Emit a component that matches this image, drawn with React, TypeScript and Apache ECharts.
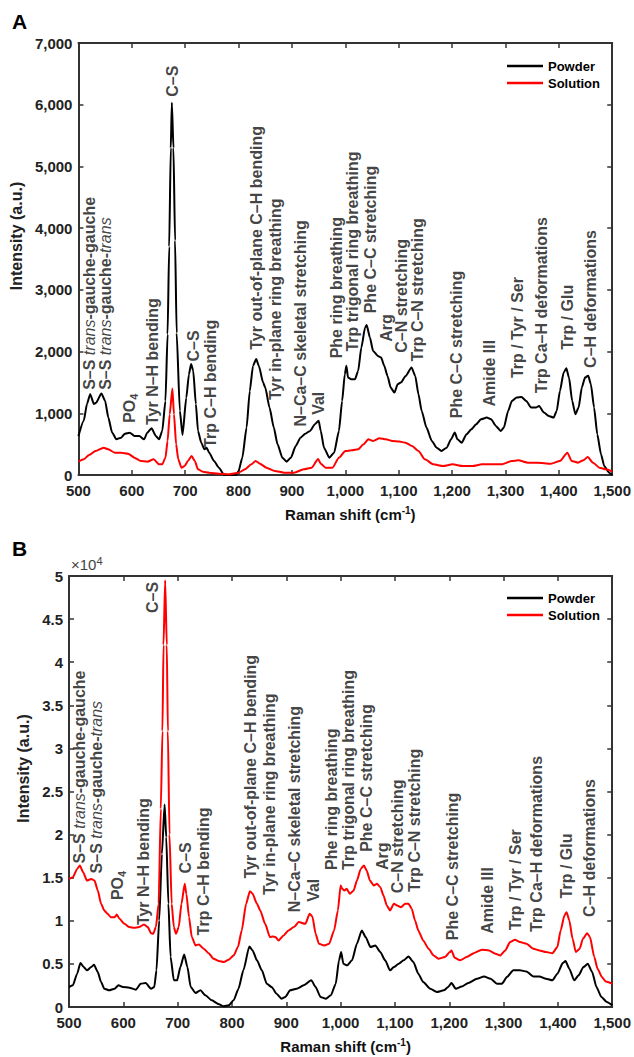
import React, { useEffect, useRef } from "react";
import * as echarts from "echarts";

// ---------- DATA ----------
const seriesNames = ["Powder", "Solution"];

// Panel A (intensity, a.u.)
const aPowder: [number, number][] = [
  [500,630],[510,880],[516,1150],[522,1310],[529,1150],[533,1170],[543,1320],[550,1200],[556,930],[563,690],[571,580],[580,605],[587,670],[596,686],[605,632],[614,632],[623,578],[629,686],[637,757],[645,632],[651,578],[657,714],[663,1200],[667,2280],[670,3700],[673,5300],[675,6030],[678,5300],[681,3800],[684,2300],[690,1040],[695,650],[702,1250],[707,1630],[711,1800],[715,1690],[720,1150],[724,714],[730,524],[736,416],[740,443],[745,362],[754,227],[763,119],[773,0],[785,0],[795,0],[800,65],[807,281],[815,768],[821,1362],[827,1768],[833,1880],[838,1768],[846,1497],[850,1416],[858,1092],[866,768],[873,497],[882,281],[890,216],[898,281],[907,470],[916,605],[925,670],[934,714],[943,822],[950,880],[954,714],[960,443],[970,281],[979,362],[988,714],[994,1200],[999,1632],[1002,1770],[1005,1578],[1011,1551],[1018,1551],[1024,1686],[1030,2065],[1037,2389],[1040,2430],[1046,2227],[1052,2011],[1061,1930],[1067,1903],[1073,1768],[1079,1605],[1085,1416],[1092,1335],[1098,1470],[1104,1497],[1113,1605],[1124,1741],[1131,1605],[1137,1308],[1143,1038],[1152,768],[1162,551],[1171,443],[1180,389],[1190,443],[1198,578],[1205,690],[1210,578],[1218,524],[1227,659],[1236,741],[1245,822],[1254,903],[1265,930],[1273,903],[1282,795],[1291,714],[1297,768],[1305,1038],[1312,1200],[1321,1254],[1330,1265],[1339,1200],[1348,1092],[1357,1092],[1363,1119],[1372,1011],[1381,957],[1390,930],[1396,1038],[1402,1362],[1409,1659],[1414,1730],[1419,1578],[1425,1200],[1431,984],[1437,1092],[1443,1416],[1449,1578],[1455,1610],[1460,1470],[1466,1092],[1472,659],[1479,335],[1485,146],[1494,38],[1500,0]
];
const aSolution: [number, number][] = [
  [500,216],[510,254],[520,324],[532,389],[547,443],[556,416],[568,362],[580,362],[593,346],[605,281],[617,227],[629,216],[641,254],[651,173],[657,173],[663,281],[667,551],[671,984],[676,1400],[679,984],[683,497],[687,254],[693,119],[699,146],[705,227],[712,308],[718,227],[724,92],[733,54],[745,38],[763,22],[782,11],[800,38],[812,92],[824,173],[832,227],[840,184],[852,119],[868,65],[885,38],[904,38],[922,92],[937,119],[949,260],[954,184],[963,119],[976,119],[988,281],[1000,389],[1012,400],[1024,416],[1034,497],[1043,578],[1052,551],[1064,595],[1076,578],[1088,551],[1101,541],[1113,524],[1125,470],[1137,389],[1149,254],[1165,173],[1183,146],[1201,173],[1220,146],[1238,146],[1256,173],[1274,173],[1293,173],[1312,227],[1324,238],[1342,200],[1360,200],[1385,184],[1402,227],[1416,362],[1424,227],[1436,200],[1446,238],[1454,292],[1464,200],[1476,119],[1488,92],[1500,54]
];

// Panel B (intensity, x10^4 a.u.)
const bPowder: [number, number][] = [
  [500,0.232],[507,0.251],[515,0.386],[521,0.51],[527,0.463],[533,0.425],[541,0.463],[546,0.49],[553,0.405],[559,0.29],[565,0.212],[574,0.193],[584,0.212],[591,0.251],[599,0.232],[611,0.224],[623,0.201],[632,0.27],[641,0.278],[651,0.212],[657,0.232],[661,0.425],[666,1.004],[671,1.776],[676,2.35],[679,1.969],[683,1.197],[687,0.579],[693,0.309],[699,0.309],[705,0.463],[712,0.61],[718,0.463],[724,0.232],[733,0.162],[742,0.193],[751,0.135],[763,0.077],[776,0.031],[785,0.008],[794,0.019],[803,0.077],[812,0.212],[821,0.425],[832,0.703],[838,0.656],[846,0.541],[855,0.425],[864,0.27],[873,0.232],[882,0.154],[891,0.097],[898,0.116],[907,0.193],[919,0.212],[932,0.251],[946,0.31],[954,0.232],[963,0.116],[973,0.097],[982,0.135],[991,0.27],[997,0.541],[1001,0.637],[1005,0.502],[1012,0.483],[1021,0.541],[1030,0.734],[1039,0.888],[1046,0.811],[1055,0.695],[1064,0.714],[1073,0.637],[1082,0.541],[1091,0.425],[1098,0.463],[1107,0.502],[1116,0.541],[1125,0.587],[1134,0.521],[1143,0.386],[1152,0.29],[1165,0.212],[1177,0.174],[1190,0.193],[1198,0.232],[1204,0.278],[1212,0.212],[1223,0.239],[1235,0.278],[1251,0.328],[1264,0.355],[1276,0.328],[1288,0.27],[1297,0.27],[1306,0.347],[1318,0.425],[1330,0.425],[1342,0.413],[1355,0.355],[1366,0.355],[1378,0.328],[1390,0.309],[1399,0.386],[1409,0.51],[1414,0.533],[1421,0.444],[1430,0.309],[1438,0.367],[1447,0.463],[1455,0.502],[1463,0.405],[1471,0.232],[1480,0.116],[1490,0.058],[1500,0.019]
];
const bSolution: [number, number][] = [
  [500,1.486],[507,1.506],[515,1.602],[520,1.641],[526,1.564],[533,1.467],[541,1.486],[547,1.467],[553,1.351],[559,1.197],[565,1.12],[571,1.081],[577,1.042],[584,1.042],[588,1.073],[593,1.023],[602,0.965],[611,0.927],[620,0.919],[629,0.927],[638,0.958],[645,0.927],[651,0.857],[655,0.849],[660,0.927],[665,1.197],[669,2.3],[672,3.2],[674,4.2],[677,4.95],[680,4.2],[682,3.2],[685,2.0],[689,1.197],[693,0.927],[697,0.849],[702,0.927],[707,1.197],[713,1.43],[716,1.313],[721,1.042],[726,0.811],[733,0.714],[739,0.726],[748,0.676],[757,0.625],[766,0.56],[776,0.533],[785,0.521],[794,0.548],[803,0.598],[811,0.695],[818,0.888],[826,1.197],[833,1.344],[838,1.313],[846,1.197],[852,1.12],[861,0.965],[870,0.811],[875,0.819],[880,0.811],[886,0.772],[895,0.83],[904,0.888],[914,0.927],[923,0.985],[935,0.965],[943,1.081],[948,1.05],[954,0.849],[960,0.734],[970,0.714],[979,0.734],[988,0.888],[995,1.12],[1000,1.409],[1003,1.371],[1007,1.351],[1011,1.371],[1017,1.313],[1024,1.351],[1030,1.467],[1037,1.602],[1043,1.641],[1048,1.583],[1054,1.467],[1061,1.409],[1067,1.429],[1073,1.39],[1079,1.293],[1085,1.178],[1091,1.12],[1098,1.197],[1104,1.178],[1111,1.158],[1119,1.197],[1125,1.197],[1131,1.139],[1137,1.004],[1143,0.888],[1152,0.772],[1162,0.676],[1171,0.598],[1180,0.56],[1192,0.579],[1201,0.637],[1204,0.656],[1210,0.571],[1220,0.541],[1232,0.579],[1245,0.625],[1260,0.664],[1273,0.656],[1285,0.618],[1294,0.598],[1303,0.656],[1312,0.753],[1321,0.78],[1330,0.753],[1342,0.734],[1355,0.676],[1366,0.656],[1378,0.637],[1390,0.625],[1399,0.695],[1405,0.888],[1412,1.062],[1416,1.1],[1421,1.004],[1427,0.792],[1433,0.637],[1440,0.676],[1446,0.792],[1454,0.857],[1459,0.811],[1467,0.579],[1473,0.444],[1481,0.347],[1488,0.297],[1500,0.27]
];

// Band annotations: [Raman shift, intensity where the text starts, text]
const aLabels: [number, number, string][] = [
  [520,1380,"S–S {i|trans}-gauche-gauche"],
  [550,1380,"S–S {i|trans}-gauche-{i|trans}"],
  [596,845,"PO{sub|4}"],
  [638,810,"Tyr N–H bending"],
  [676,6130,"C–S"],
  [715,1840,"C–S"],
  [748,440,"Trp C–H bending"],
  [834,2030,"Tyr out-of-plane C–H bending"],
  [870,1215,"Tyr in-plane ring breathing"],
  [916,785,"N–Ca–C skeletal stretching"],
  [950,975,"Val"],
  [983,1890,"Phe ring breathing"],
  [1014,2000,"Trp trigonal ring breathing"],
  [1047,2620,"Phe C–C stretching"],
  [1078,2160,"Arg"],
  [1105,1980,"C–N stretching"],
  [1136,1840,"Trp C–N stretching"],
  [1209,920,"Phe C–C stretching"],
  [1270,1110,"Amide III"],
  [1322,1570,"Trp / Tyr / Ser"],
  [1368,1325,"Trp Ca–H deformations"],
  [1416,2030,"Trp / Glu"],
  [1459,1735,"C–H deformations"],
];
const bLabels: [number, number, string][] = [
  [520,1.665,"S–S {i|trans}-gauche-gauche"],
  [550,1.55,"S–S {i|trans}-gauche-{i|trans}"],
  [590,1.24,"PO{sub|4}"],
  [638,0.95,"Tyr N–H bending"],
  [654,4.57,"C–S"],
  [715,1.55,"C–S"],
  [748,0.83,"Trp C–H bending"],
  [834,1.49,"Tyr out-of-plane C–H bending"],
  [870,1.30,"Tyr in-plane ring breathing"],
  [916,1.10,"N–Ca–C skeletal stretching"],
  [950,1.22,"Val"],
  [983,1.59,"Phe ring breathing"],
  [1014,1.59,"Trp trigonal ring breathing"],
  [1047,1.80,"Phe C–C stretching"],
  [1078,1.59,"Arg"],
  [1105,1.32,"C–N stretching"],
  [1136,1.335,"Trp C–N stretching"],
  [1206,0.775,"Phe C–C stretching"],
  [1270,0.85,"Amide III"],
  [1322,0.89,"Trp / Tyr / Ser"],
  [1361,0.87,"Trp Ca–H deformations"],
  [1416,1.26,"Trp / Glu"],
  [1459,1.045,"C–H deformations"],
];

const xRange = { min: 500, max: 1500, interval: 100 };
const aYRange = { min: 0, max: 7000, interval: 1000 };
const bYRange = { min: 0, max: 5, interval: 0.5 };
const panelTitles = ["A", "B"];
const xTitle = "Raman shift (cm{sup|-1})";
const yTitle = "Intensity (a.u.)";
const bExponent = "×10{sup|4}";

// ---------- STYLE ----------
const FONT = "'Liberation Sans', Arial, Helvetica, sans-serif";
const AX = "#333";
const comma = (v: number) => String(v).replace(/\B(?=(\d{3})+(?!\d))/g, ",");

function xAxis(gridIndex: number, position: "top" | "bottom", main: boolean) {
  return {
    type: "value", gridIndex, position, ...xRange,
    axisLine: { show: true, onZero: false, lineStyle: { color: AX, width: 2 } },
    axisTick: { show: true, inside: true, length: 5, lineStyle: { color: AX, width: 1.5 } },
    axisLabel: { show: main, margin: 8, fontSize: 15, fontWeight: "bold", color: "#222", fontFamily: FONT, formatter: (v: number) => comma(v) },
    splitLine: { show: false },
    name: main ? xTitle : "",
    nameLocation: "middle",
    nameGap: 30,
    nameTextStyle: {
      fontSize: 15, fontWeight: "bold", color: "#111", fontFamily: FONT, padding: [0, 0, 0, 10],
      rich: { sup: { fontSize: 10, fontWeight: "bold", fontFamily: FONT, color: "#111", padding: [0, 0, 9, 0] } },
    },
  };
}

function yAxis(gridIndex: number, position: "left" | "right", main: boolean, range: any, nameGap: number, fmt: (v: number) => string) {
  return {
    type: "value", gridIndex, position, ...range,
    axisLine: { show: true, onZero: false, lineStyle: { color: AX, width: 2 } },
    axisTick: { show: true, inside: true, length: 5, lineStyle: { color: AX, width: 1.5 } },
    axisLabel: { show: main, margin: 6, fontSize: 15, fontWeight: "bold", color: "#222", fontFamily: FONT, formatter: fmt },
    splitLine: { show: false },
    name: main ? yTitle : "",
    nameLocation: "middle",
    nameGap,
    nameTextStyle: { fontSize: 16, fontWeight: "bold", color: "#222", fontFamily: FONT, padding: [0, 0, 0, 46] },
  };
}

const labelStyle = {
  show: true,
  position: "inside",
  rotate: 90,
  align: "left",
  verticalAlign: "middle",
  fontSize: 16,
  fontWeight: "bold",
  color: "#111",
  fontFamily: FONT,
  formatter: (p: any) => p.name,
  rich: {
    i: { fontSize: 16, fontStyle: "italic", fontWeight: "normal", color: "#111", fontFamily: FONT },
    sub: { fontSize: 11, fontWeight: "bold", color: "#111", fontFamily: FONT, padding: [8, 0, 0, 0] },
  },
};

function annot(list: [number, number, string][], idx: number) {
  return {
    type: "scatter",
    xAxisIndex: idx, yAxisIndex: idx,
    symbolSize: 1,
    itemStyle: { color: "transparent" },
    silent: true,
    z: 5,
    label: labelStyle,
    data: list.map(([x, y, t]) => ({ name: t, value: [x, y] })),
  };
}

function line(name: string, data: [number, number][], idx: number, color: string) {
  return {
    type: "line", name, data, xAxisIndex: idx, yAxisIndex: idx,
    symbol: "none", smooth: 0.2, smoothMonotone: "x",
    color, lineStyle: { color, width: 2 }, itemStyle: { color },
    silent: true, z: 3,
  };
}

function legend(top: number) {
  return {
    data: seriesNames, orient: "vertical", left: 507, top, padding: 0,
    icon: "rect", itemWidth: 36, itemHeight: 2.5, itemGap: 3,
    textStyle: { fontSize: 13, fontWeight: "bold", color: "#000", fontFamily: FONT, lineHeight: 14 },
    selectedMode: false,
  };
}

export default function App() {
  const ref = useRef<HTMLDivElement>(null);
  useEffect(() => {
    if (!ref.current) return;
    const chart = echarts.init(ref.current, null, { renderer: "svg" });
    chart.setOption({
      animation: false,
      backgroundColor: "#fff",
      grid: [
        { left: 69, right: 18, top: 43, height: 432 },
        { left: 69, right: 18, top: 576, height: 431 },
      ],
      xAxis: [
        xAxis(0, "bottom", true),
        xAxis(1, "bottom", true),
        xAxis(0, "top", false),
        xAxis(1, "top", false),
      ],
      yAxis: [
        yAxis(0, "left", true, aYRange, 47, (v) => comma(v)),
        yAxis(1, "left", true, bYRange, 28, (v) => String(v)),
        yAxis(0, "right", false, aYRange, 0, (v) => ""),
        yAxis(1, "right", false, bYRange, 0, (v) => ""),
        {
          type: "value", gridIndex: 1, position: "left", ...bYRange,
          axisLine: { show: false }, axisTick: { show: false }, axisLabel: { show: false }, splitLine: { show: false },
          name: bExponent, nameLocation: "end", nameGap: 2,
          nameTextStyle: {
            align: "left", verticalAlign: "bottom", fontSize: 15, color: "#444", fontFamily: FONT, padding: [0, 0, 0, 2],
            rich: { sup: { fontSize: 11, color: "#444", fontFamily: FONT, padding: [0, 0, 8, 0] } },
          },
        },
      ],
      legend: [legend(59), legend(591)],
      series: [
        line("Powder", aPowder, 0, "#000"),
        line("Solution", aSolution, 0, "#ff0000"),
        line("Powder", bPowder, 1, "#000"),
        line("Solution", bSolution, 1, "#ff0000"),
        annot(aLabels, 0),
        annot(bLabels, 1),
      ],
      graphic: [
        { type: "text", left: 12, top: 11, style: { text: panelTitles[0], fontSize: 21, fontWeight: "bold", fill: "#000", fontFamily: FONT } },
        { type: "text", left: 12, top: 538, style: { text: panelTitles[1], fontSize: 21, fontWeight: "bold", fill: "#000", fontFamily: FONT } },
      ],
    });
    return () => chart.dispose();
  }, []);
  return (
    <div
      ref={ref}
      style={{ position: "absolute", left: 0, top: 0, width: 634, height: 1057, background: "#fff" }}
    />
  );
}
